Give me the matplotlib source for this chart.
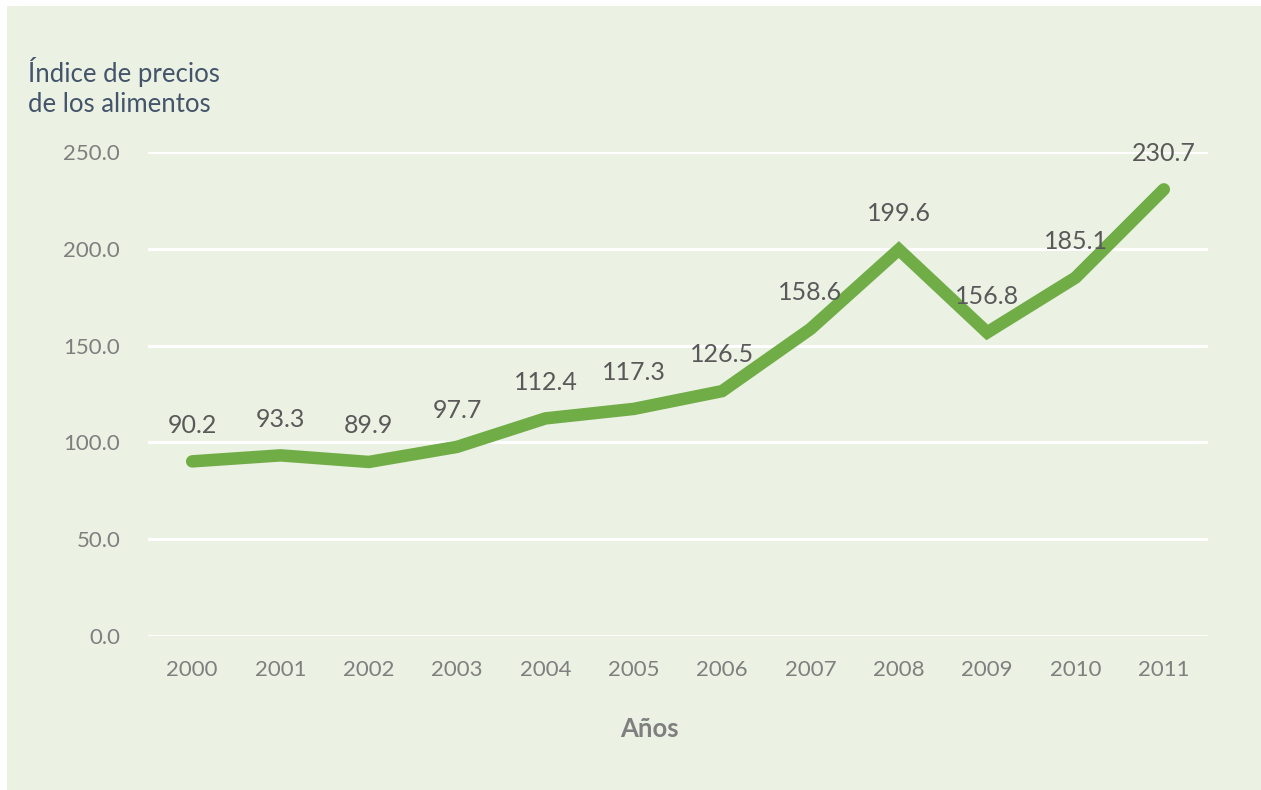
import matplotlib
matplotlib.use("Agg")
import matplotlib.pyplot as plt
from matplotlib.patches import Rectangle

years = ["2000", "2001", "2002", "2003", "2004", "2005", "2006", "2007", "2008", "2009", "2010", "2011"]
values = [90.2, 93.3, 89.9, 97.7, 112.4, 117.3, 126.5, 158.6, 199.6, 156.8, 185.1, 230.7]
yticks = [0, 50, 100, 150, 200, 250]

plt.rcParams['font.family'] = ['Lato', 'DejaVu Sans']

W, H = 1261, 790
fig = plt.figure(figsize=(W / 100, H / 100), dpi=100, facecolor="white")
bg = "#EBF1E3"
fig.patches.append(Rectangle((7 / W, 0), 1, 1 - 6 / H, transform=fig.transFigure,
                             facecolor=bg, edgecolor="none", zorder=-10))

ax = fig.add_axes([148 / W, 1 - 636 / H, (1208 - 148) / W, (636 - 152) / H])
ax.set_facecolor(bg)
ax.patch.set_alpha(0)

x = list(range(len(years)))
ax.set_xlim(-0.5, len(years) - 0.5)
ax.set_ylim(0, 250)
ax.set_yticks(yticks)
ax.set_yticklabels([f"{v:.1f}" for v in yticks])
ax.set_xticks(x)
ax.set_xticklabels(years)
ax.grid(axis="y", color="white", linewidth=2.2, zorder=0)
ax.set_axisbelow(True)
for s in ax.spines.values():
    s.set_visible(False)
ax.tick_params(axis="both", length=0, labelsize=16, labelcolor="#7F7F7F")
ax.tick_params(axis="y", pad=20)
ax.tick_params(axis="x", pad=17)

ax.plot(x, values, color="#70AD47", linewidth=9, solid_capstyle="round",
        solid_joinstyle="miter", zorder=3, clip_on=False)

for xi, v in zip(x, values):
    ax.annotate(f"{v:.1f}", (xi, v), xytext=(0, 26), textcoords="offset points",
                ha="center", va="center", fontsize=18, color="#595959",
                annotation_clip=False, zorder=4)

fig.text(28 / W, 1 - 72 / H, "Índice de precios", ha="left", va="center",
         fontsize=18.5, color="#44546A")
fig.text(28 / W, 1 - 104 / H, "de los alimentos", ha="left", va="center",
         fontsize=18.5, color="#44546A")
fig.text(649 / W, 1 - 729 / H, "Años", ha="center", va="center",
         fontsize=18.5, fontweight="bold", color="#7F7F7F")

fig.savefig("out.png", dpi=100, facecolor="white")
